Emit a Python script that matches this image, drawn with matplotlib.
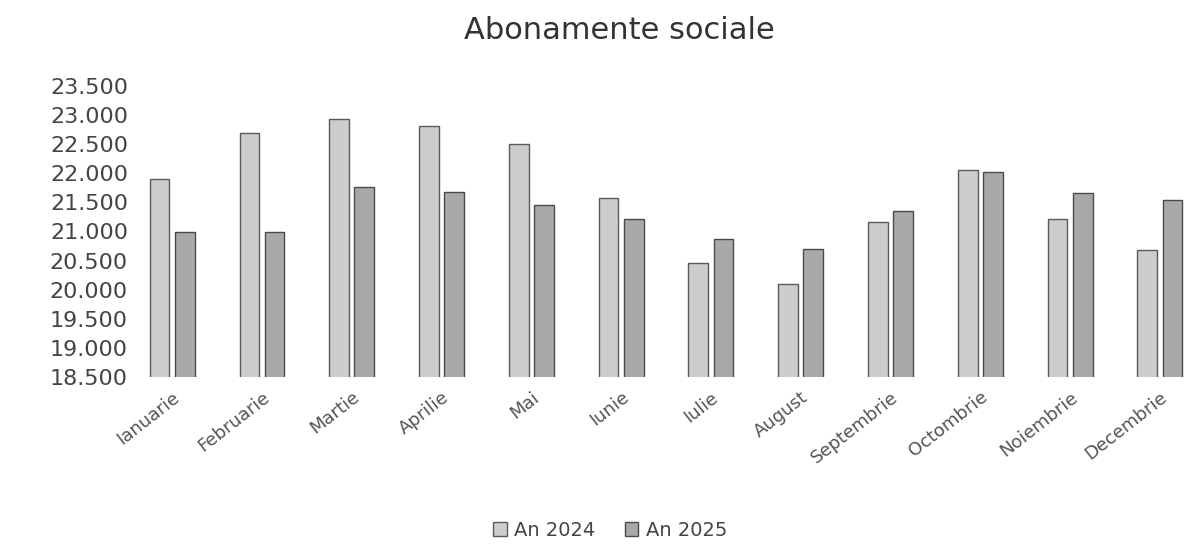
import numpy as np
import matplotlib.pyplot as plt
from matplotlib.ticker import FuncFormatter

luni = ["Ianuarie", "Februarie", "Martie", "Aprilie", "Mai", "Iunie", "Iulie",
        "August", "Septembrie", "Octombrie", "Noiembrie", "Decembrie"]
an_2024 = [21900, 22700, 22930, 22820, 22510, 21580, 20450, 20100, 21160, 22050, 21210, 20690]
an_2025 = [20990, 20990, 21770, 21680, 21450, 21220, 20870, 20700, 21350, 22020, 21665, 21540]

plt.rcParams['font.family'] = ['DejaVu Sans']

fig = plt.figure(figsize=(11.85, 5.44), dpi=100)
ax = fig.add_axes([0.115, 0.307, 0.885, 0.535])

x = np.arange(len(luni))
w = 0.22
ax.bar(x - 0.14, an_2024, w, color="#cdcdcd", edgecolor="#5a5a5a",
       linewidth=1, label="An 2024")
ax.bar(x + 0.14, an_2025, w, color="#a9a9a9", edgecolor="#4a4a4a",
       linewidth=1, label="An 2025")

ax.set_ylim(18500, 23500)
ax.set_xlim(-0.40, 11.28)
ax.set_yticks(np.arange(18500, 23501, 500))
ax.yaxis.set_major_formatter(FuncFormatter(lambda v, p: f"{int(v):,}".replace(",", ".")))
ax.set_xticks(x)
ax.set_xticklabels(luni, rotation=38, ha="right", rotation_mode="anchor",
                   fontsize=13, color="#555555")
ax.tick_params(axis="y", labelsize=16, colors="#444444", length=0, pad=6)
ax.tick_params(axis="x", length=0, pad=8)
for s in ax.spines.values():
    s.set_visible(False)

fig.suptitle("Abonamente sociale", fontsize=22, color="#333333", x=0.523, y=0.97)
fig.legend(loc="lower center", ncol=2, frameon=False, fontsize=14,
           bbox_to_anchor=(0.515, -0.025), handlelength=0.7, handleheight=0.7,
           handletextpad=0.4, columnspacing=1.5, labelcolor="#444444")

plt.savefig("out.png", dpi=100)
